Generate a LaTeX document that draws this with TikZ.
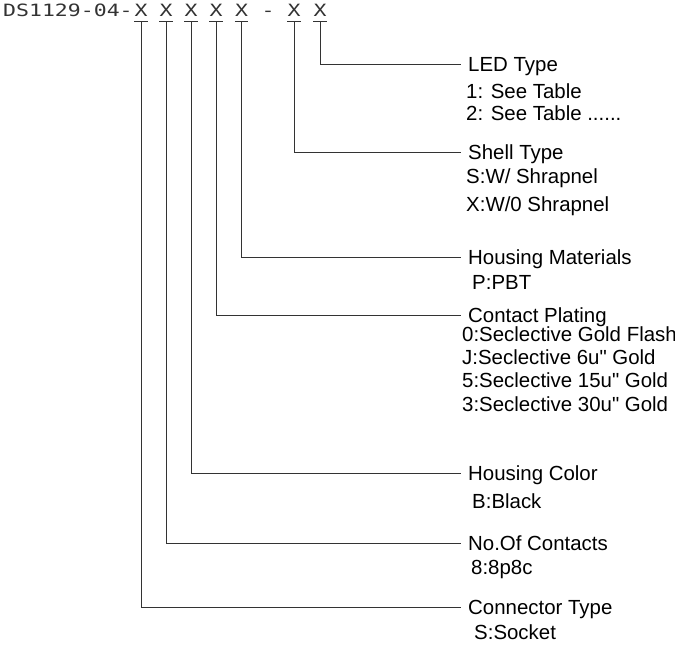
\documentclass[tikz,border=0pt]{standalone}
\usepackage{fontspec}
\setmainfont{Liberation Sans}[Ligatures=TeXOff]
\newfontfamily\cadfont[FakeStretch=1.27]{DejaVu Sans Mono}

\begin{document}
\begin{tikzpicture}[
	x=1bp, y=-1bp,
	font=\fontsize{20.5}{24}\selectfont,
	lead/.style={draw=black!80, line width=0.9bp},
	code/.style={font=\cadfont\fontsize{17}{20}\selectfont, inner sep=0pt,
		anchor=base, text depth=0pt, text=black!80},
	digit/.style={code, inner ysep=4bp},
	title/.style={anchor=west, inner xsep=7bp, inner ysep=0pt,
		text height=15bp, text depth=0pt},
	entry/.style={anchor=base west, inner sep=0pt}
	]
	\useasboundingbox (0,0) rectangle (675,652);
	
	%--- part number -----------------------------------------------------------
	\node[code, anchor=base west] (hdr) at (3,17) {DS1129-04-};
	\node[digit] (x1) at (141,17) {X};
	\node[digit] (x2) at (166,17) {X};
	\node[digit] (x3) at (191,17) {X};
	\node[digit] (x4) at (216,17) {X};
	\node[digit] (x5) at (241.5,17) {X};
	\node[code] (sep) at (268,17) {-};
	\node[digit] (x6) at (294,17) {X};
	\node[digit] (x7) at (320,17) {X};
	
	%--- LED type --------------------------------------------------------------
	\node[title] (led) at (461,64) {LED Type};
	\node[entry] (led1) at (466,99) {1: See Table};
	\node[entry] (led2) at (466,121) {2: See Table ......};
	
	%--- shell type ------------------------------------------------------------
	\node[title] (shell) at (461,152) {Shell Type};
	\node[entry] (shell1) at (466,183) {S:W/ Shrapnel};
	\node[entry] (shell2) at (466,211) {X:W/0 Shrapnel};
	
	%--- housing materials -----------------------------------------------------
	\node[title] (mat) at (461,257) {Housing Materials};
	\node[entry] (mat1) at (472,289) {P:PBT};
	
	%--- contact plating -------------------------------------------------------
	\node[title] (plate) at (461,315) {Contact Plating};
	\node[entry] (plate1) at (462,341) {0:Seclective Gold Flash};
	\node[entry] (plate2) at (462,364) {J:Seclective 6u" Gold};
	\node[entry] (plate3) at (462,387) {5:Seclective 15u" Gold};
	\node[entry] (plate4) at (462,411) {3:Seclective 30u" Gold};
	
	%--- housing color ---------------------------------------------------------
	\node[title] (color) at (461,473) {Housing Color};
	\node[entry] (color1) at (472,508) {B:Black};
	
	%--- contacts --------------------------------------------------------------
	\node[title] (cnt) at (461,543) {No.Of Contacts};
	\node[entry] (cnt1) at (471,574) {8:8p8c};
	
	%--- connector type --------------------------------------------------------
	\node[title] (conn) at (461,607) {Connector Type};
	\node[entry] (conn1) at (474,639) {S:Socket};
	
	%--- leaders from each X ---------------------------------------------------
	\draw[lead] (x1.south west) -- (x1.south east);
	\draw[lead] (x2.south west) -- (x2.south east);
	\draw[lead] (x3.south west) -- (x3.south east);
	\draw[lead] (x4.south west) -- (x4.south east);
	\draw[lead] (x5.south west) -- (x5.south east);
	\draw[lead] (x6.south west) -- (x6.south east);
	\draw[lead] (x7.south west) -- (x7.south east);
	
	\draw[lead] (x1.south) |- (conn.west);
	\draw[lead] (x2.south) |- (cnt.west);
	\draw[lead] (x3.south) |- (color.west);
	\draw[lead] (x4.south) |- (plate.west);
	\draw[lead] (x5.south) |- (mat.west);
	\draw[lead] (x6.south) |- (shell.west);
	\draw[lead] (x7.south) |- (led.west);
\end{tikzpicture}
\end{document}
